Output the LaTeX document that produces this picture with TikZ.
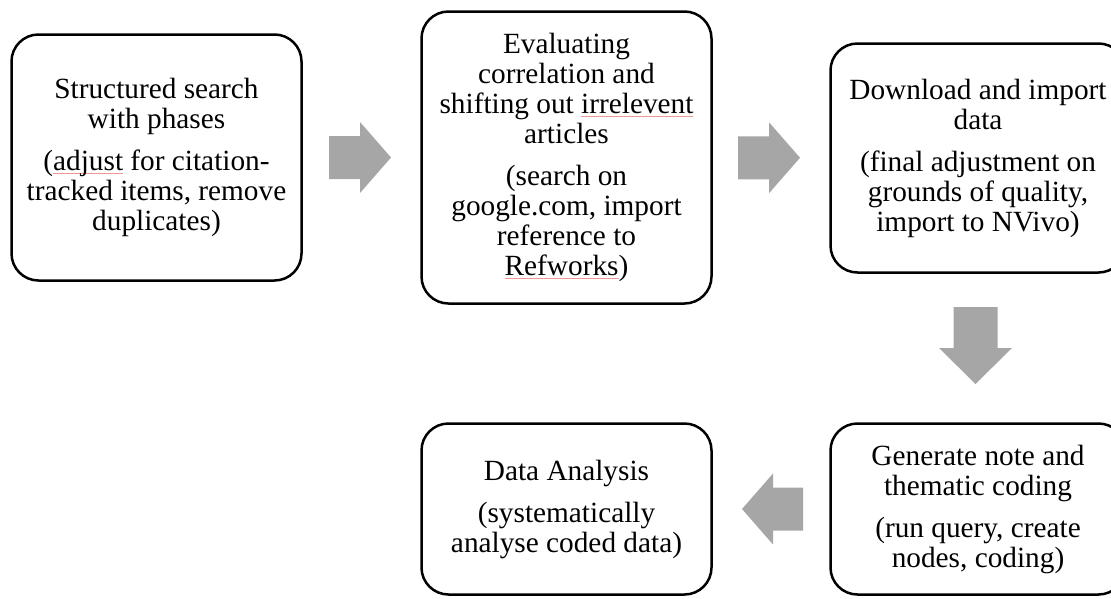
\documentclass[tikz,border=0pt]{standalone}
\usepackage{fontspec}
\setmainfont{Liberation Serif}
\usetikzlibrary{calc}
\definecolor{arrowgray}{RGB}{166,166,166}
\definecolor{spellred}{RGB}{240,150,150}
\newlength\spellw
\newcommand\spellmark[1]{\settowidth\spellw{#1}\rlap{\textcolor{spellred}{\rule[-3.5pt]{\spellw}{0.7pt}}}#1}
\begin{document}
\begin{tikzpicture}[x=1pt,y=-1pt,
  stepbox/.style={draw=black, line width=2.5pt, rounded corners=27pt, fill=white,
    align=center, inner sep=0pt, font=\fontsize{29.3}{30}\selectfont},
  pics/blockarrow/.style n args={4}{code={
    \fill[arrowgray] (-#1/2,-#2) -- (#1/2-#4,-#2) -- (#1/2-#4,-#3) -- (#1/2,0)
      -- (#1/2-#4,#3) -- (#1/2-#4,#2) -- (-#1/2,#2) -- cycle;}}
]
\useasboundingbox (0,0) rectangle (1111,598);

\node[stepbox, minimum width=290pt, minimum height=246pt] (b1) at (156.5,157.5)
  {Structured search\\ with phases\\[12pt] (\spellmark{adjust} for citation-\\ tracked items, remove\\ duplicates)};
\node[stepbox, minimum width=290pt, minimum height=292pt] (b2) at (566.5,157.5)
  {Evaluating\\ correlation and\\ shifting out \spellmark{irrelevent}\\ articles\\[12pt] (search on\\ google.com, import\\ reference to\\ \spellmark{Refworks})};
\node[stepbox, minimum width=295pt, minimum height=229pt] (b3) at (978,158)
  {Download and import\\ data\\[12pt] (final adjustment on\\ grounds of quality,\\ import to NVivo)};
\node[stepbox, minimum width=295pt, minimum height=171pt] (b4) at (978,509)
  {Generate note and\\ thematic coding\\[12pt] (run query, create\\ nodes, coding)};
\node[stepbox, minimum width=290pt, minimum height=171pt] (b5) at (566.5,509)
  {Data Analysis\\[12pt] (systematically\\ analyse coded data)};

\coordinate (a12) at ($(b1.east)!0.5!(b2.west)+(-1.5,0)$);
\coordinate (a23) at ($(b2.east)!0.5!(b3.west)+(-2,0)$);
\coordinate (a34) at ($(b3.south)!0.5!(b4.north)+(-2.5,-2.5)$);
\coordinate (a45) at ($(b4.west)!0.5!(b5.east)+(1.5,0)$);

\pic at (a12) {blockarrow={62}{21.5}{35.5}{31}};
\pic at (a23) {blockarrow={62}{21.5}{35.5}{31}};
\pic[rotate=-90] at (a34) {blockarrow={77}{22}{36.5}{36}};
\pic[rotate=180] at (a45) {blockarrow={61}{21.5}{35.5}{31}};
\end{tikzpicture}
\end{document}
